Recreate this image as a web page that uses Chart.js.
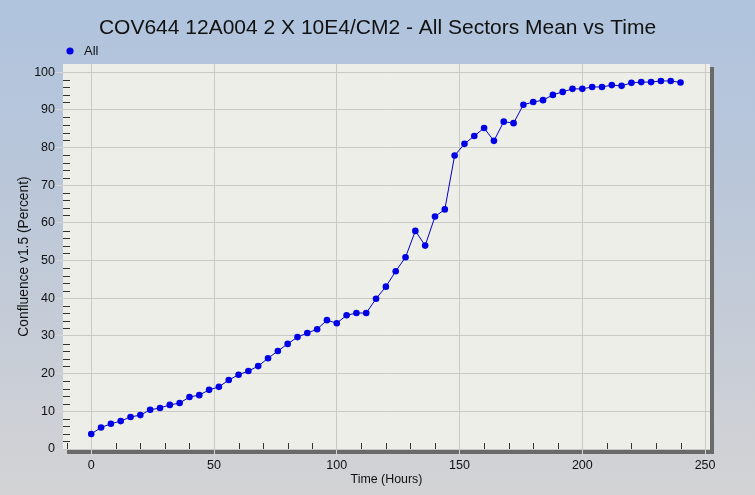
<!DOCTYPE html>
<html>
<head>
<meta charset="utf-8">
<script src="https://cdn.jsdelivr.net/npm/chart.js@4.4.1/dist/chart.umd.min.js"></script>
<style>
  html, body { margin: 0; padding: 0; background: #c4cdd9; }
  #wrap { width: 755px; height: 495px; position: relative; }
</style>
</head>
<body>
<div id="wrap"><canvas id="c" width="755" height="495"></canvas></div>
<script>
// ---- data ----
const hours = [0,4,8,12,16,20,24,28,32,36,40,44,48,52,56,60,64,68,72,76,80,84,88,92,96,100,104,108,112,116,
  120,124,128,132,136,140,144,148,152,156,160,164,168,172,176,180,184,188,192,196,200,204,208,212,216,220,224,228,232,236,240];
const confluence = [4.0,5.7,6.7,7.4,8.5,9.0,10.4,10.9,11.7,12.2,13.8,14.3,15.7,16.5,18.3,19.7,20.7,22.0,24.1,26.0,27.9,29.7,30.8,31.8,34.2,33.4,35.5,36.1,36.1,39.9,
  43.1,47.2,50.9,57.9,54.0,61.7,63.6,77.9,81.0,83.1,85.2,81.8,86.9,86.5,91.4,92.1,92.6,94.0,94.8,95.6,95.6,96.1,96.1,96.6,96.4,97.2,97.4,97.4,97.7,97.7,97.3];
const seriesName = 'All';
const xTickValues = [0,50,100,150,200,250];
const yTickValues = [0,10,20,30,40,50,60,70,80,90,100];
const titleText = 'COV644 12A004 2 X 10E4/CM2 - All Sectors Mean vs Time';
const xTitle = 'Time (Hours)';
const yTitle = 'Confluence v1.5 (Percent)';

const points = hours.map((h, i) => ({ x: h, y: confluence[i] }));

const FONT = "'Liberation Sans', Arial, sans-serif";

const bgPlugin = {
  id: 'bg',
  afterLayout(chart) {
    const t = chart.titleBlock;
    if (t) { t.left = 0; t.right = chart.width; t.width = chart.width; }
  },
  beforeDraw(chart) {
    const { ctx, width, height, chartArea: a } = chart;
    ctx.save();
    const g = ctx.createLinearGradient(0, 0, 0, height);
    g.addColorStop(0, '#b0c4de');
    g.addColorStop(0.35, '#b9c6d9');
    g.addColorStop(1, '#d3d3d5');
    ctx.fillStyle = g;
    ctx.fillRect(0, 0, width, height);
    // shadow bars
    ctx.fillStyle = '#6a6a6a';
    ctx.fillRect(a.left + 4, a.bottom, a.right - a.left, 5);
    ctx.fillRect(a.right, a.top + 3, 4, a.bottom - a.top + 2);
    // plot background
    ctx.fillStyle = '#eeeee9';
    ctx.fillRect(a.left, a.top, a.right - a.left, a.bottom - a.top);
    ctx.restore();
  },
  afterDraw(chart) {
    const { ctx, chartArea: a, scales } = chart;
    ctx.save();
    // minor ticks
    ctx.strokeStyle = '#333333';
    ctx.lineWidth = 1;
    ctx.beginPath();
    for (let v = 2; v <= 100; v += 2) {
      if (v % 10 === 0) continue;
      const y = Math.round(scales.y.getPixelForValue(v)) + 0.5;
      ctx.moveTo(a.left, y); ctx.lineTo(a.left + 7, y);
    }
    for (let v = -10; v <= 250; v += 10) {
      if (v % 50 === 0) continue;
      const x = Math.round(scales.x.getPixelForValue(v)) + 0.5;
      ctx.moveTo(x, a.bottom); ctx.lineTo(x, a.bottom - 6);
    }
    ctx.stroke();
    // legend
    ctx.fillStyle = '#0000e6';
    ctx.beginPath();
    ctx.arc(70, 51, 3.6, 0, Math.PI * 2);
    ctx.fill();
    ctx.fillStyle = '#111111';
    ctx.font = '13px ' + FONT;
    ctx.textBaseline = 'middle';
    ctx.textAlign = 'left';
    ctx.fillText(seriesName, 84, 51);
    ctx.restore();
  }
};

new Chart(document.getElementById('c'), {
  type: 'line',
  data: {
    datasets: [{
      label: seriesName,
      data: points,
      borderColor: '#0000c8',
      borderWidth: 1,
      backgroundColor: '#0000e6',
      pointBackgroundColor: '#0000e6',
      pointBorderWidth: 0,
      pointRadius: 3.3,
      pointStyle: 'circle',
      tension: 0,
      fill: false
    }]
  },
  options: {
    responsive: false,
    animation: false,
    devicePixelRatio: 1,
    layout: { padding: { left: 0, right: 45, top: 0, bottom: 0 } },
    plugins: {
      legend: { display: false },
      tooltip: { enabled: false },
      title: {
        display: true,
        text: titleText,
        color: '#111111',
        font: { family: FONT, size: 21, weight: 'normal' },
        padding: { top: 16, bottom: 22.8 }
      }
    },
    scales: {
      x: {
        type: 'linear',
        min: -11.5,
        max: 252,
        afterFit(s) { s.height = 46; },
        afterBuildTicks(s) { s.ticks = xTickValues.map(v => ({ value: v })); },
        grid: { color: '#c9c9c6', tickLength: 6, tickColor: '#d6d6d6', drawTicks: true },
        border: { display: false },
        ticks: { color: '#111111', font: { family: FONT, size: 12.5 }, padding: 3, maxRotation: 0 },
        title: { display: true, text: xTitle, color: '#111111', font: { family: FONT, size: 12.4 }, padding: { top: 0, bottom: 7.6 } }
      },
      y: {
        type: 'linear',
        min: 0,
        max: 102.2,
        afterFit(s) { s.width = 63; },
        afterBuildTicks(s) { s.ticks = yTickValues.map(v => ({ value: v })); },
        grid: { color: '#c9c9c6', tickLength: 8, tickColor: '#d6d6d6', drawTicks: true },
        border: { display: false },
        ticks: { color: '#111111', font: { family: FONT, size: 12.5 }, padding: 0 },
        title: { display: true, text: yTitle, color: '#111111', font: { family: FONT, size: 13.8 }, padding: { top: 15.5, bottom: 0 } }
      }
    }
  },
  plugins: [bgPlugin]
});
</script>
</body>
</html>
